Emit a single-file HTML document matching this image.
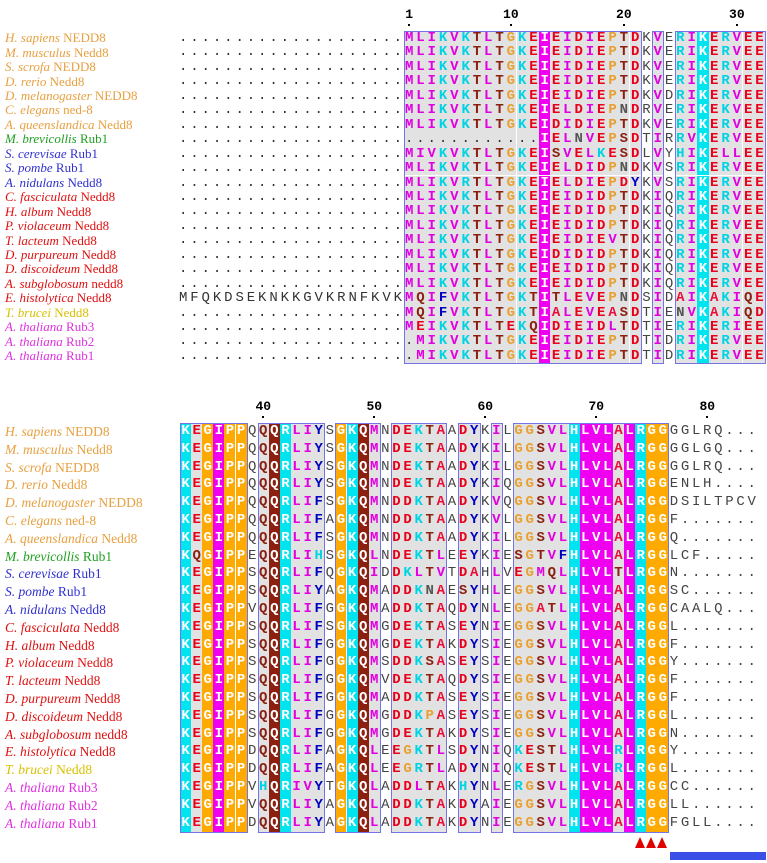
<!DOCTYPE html>
<html><head><meta charset="utf-8"><style>
body{margin:0;background:#fff;width:767px;height:863px;overflow:hidden;position:relative;font-family:"Liberation Serif",serif}
.n{position:absolute;left:5px;font-size:13px;white-space:nowrap}
.c{position:absolute;text-align:center;font-family:"Liberation Mono",monospace;font-weight:bold;font-size:14px}
.fr{position:absolute;border:1px solid #7474e4;box-sizing:border-box}
.r{position:absolute;font-family:"Liberation Mono",monospace;font-weight:bold;font-size:13px;text-align:center;width:30px}
</style></head><body>
<script>
const names=[["H. sapiens","NEDD8","#e8a040"],["M. musculus","Nedd8","#e8a040"],["S. scrofa","NEDD8","#e8a040"],["D. rerio","Nedd8","#e8a040"],["D. melanogaster","NEDD8","#e8a040"],["C. elegans","ned-8","#e8a040"],["A. queenslandica","Nedd8","#e8a040"],["M. brevicollis","Rub1","#20a020"],["S. cerevisae","Rub1","#3030d0"],["S. pombe","Rub1","#3030d0"],["A. nidulans","Nedd8","#3030d0"],["C. fasciculata","Nedd8","#e01010"],["H. album","Nedd8","#e01010"],["P. violaceum","Nedd8","#e01010"],["T. lacteum","Nedd8","#e01010"],["D. purpureum","Nedd8","#e01010"],["D. discoideum","Nedd8","#e01010"],["A. subglobosum","nedd8","#e01010"],["E. histolytica","Nedd8","#e01010"],["T. brucei","Nedd8","#d8c000"],["A. thaliana","Rub3","#e030e0"],["A. thaliana","Rub2","#e030e0"],["A. thaliana","Rub1","#e030e0"]];
const prefix=["....................","....................","....................","....................","....................","....................","....................","....................","....................","....................","....................","....................","....................","....................","....................","....................","....................","....................","MFQKDSEKNKKGVKRNFKVK","....................","....................","....................","...................."];
const seq1=["MLIKVKTLTGKEIEIDIEPTDKVERIKERVEE","MLIKVKTLTGKEIEIDIEPTDKVERIKERVEE","MLIKVKTLTGKEIEIDIEPTDKVERIKERVEE","MLIKVKTLTGKEIEIDIEPTDKVERIKERVEE","MLIKVKTLTGKEIEIDIEPTDKVDRIKERVEE","MLIKVKTLTGKEIELDIEPNDRVERIKEKVEE","MLIKVKTLTGKEIDIDIEPTDKVERIKERVEE","............IELNVEPSDTIRRVKERVEE","MIVKVKTLTGKEISVELKESDLVYHIKELLEE","MLIKVKTLTGKEIELDIDPNDKVSRIKERVEE","MLIKVRTLTGKEIELDIEPDYKVSRIKERVEE","MLIKVKTLTGKEIEIDIDPTDKIQRIKERVEE","MLIKVKTLTGKEIEIDIDPTDKIQRIKERVEE","MLIKVKTLTGKEIEIDIDPTDKIQRIKERVEE","MLIKVKTLTGKEIEIDIEVTDKIQRIKERVEE","MLIKVKTLTGKEIDIDIDPTDKIQRIKERVEE","MLIKVKTLTGKEIEIDIDPTDKIQRIKERVEE","MLIKVKTLTGKEIEIDIDPTDKIQRIKERVEE","MQIFVKTLTGKTITLEVEPNDSIDAIKAKIQE","MQIFVKTLTGKTIALEVEASDTIENVKAKIQD","MEIKVKTLTEKQIDIEIDLTDTIERIKERIEE",".MIKVKTLTGKEIEIDIEPTDTIDRIKERVEE",".MIKVKTLTGKEIEIDIEPTDTIDRIKERVEE"];
const seq2=["KEGIPPQQQRLIYSGKQMNDEKTAADYKILGGSVLHLVLALRGGGGLRQ...","KEGIPPQQQRLIYSGKQMNDEKTAADYKILGGSVLHLVLALRGGGGLGQ...","KEGIPPQQQRLIYSGKQMNDEKTAADYKILGGSVLHLVLALRGGGGLRQ...","KEGIPPQQQRLIYSGKQMNDEKTAADYKIQGGSVLHLVLALRGGENLH....","KEGIPPQQQRLIFSGKQMNDDKTAADYKVQGGSVLHLVLALRGGDSILTPCV","KEGIPPQQQRLIFAGKQMNDDKTAADYKVLGGSVLHLVLALRGGF.......","KEGIPPQQQRLIFSGKQMNDDKTAADYKILGGSVLHLVLALRGGQ.......","KQGIPPEQQRLIHSGKQLNDEKTLEEYKIESGTVFHLVLALRGGLCF.....","KEGIPPSQQRLIFQGKQIDDKLTVTDAHLVEGMQLHLVLTLRGGN.......","KEGIPPSQQRLIYAGKQMADDKNAESYHLEGGSVLHLVLALRGGSC......","KEGIPPVQQRLIFGGKQMADDKTAQDYNLEGGATLHLVLALRGGCAALQ...","KEGIPPSQQRLIFSGKQMGDEKTASEYNIEGGSVLHLVLALRGGL.......","KEGIPPSQQRLIFGGKQMGDEKTAKDYSIEGGSVLHLVLALRGGF.......","KEGIPPSQQRLIFGGKQMSDDKSASEYSIEGGSVLHLVLALRGGY.......","KEGIPPSQQRLIFGGKQMVDEKTAQDYSIEGGSVLHLVLALRGGF.......","KEGIPPSQQRLIFGGKQMADDKTASEYSIEGGSVLHLVLALRGGF.......","KEGIPPSQQRLIFGGKQMGDDKPASEYSIEGGSVLHLVLALRGGL.......","KEGIPPSQQRLIFGGKQMGDEKTAKDYSIEGGSVLHLVLALRGGN.......","KEGIPPDQQRLIFAGKQLEEGKTLSDYNIQKESTLHLVLRLRGGY.......","KEGIPPDQQRLIFAGKQLEEGRTLADYNIQKESTLHLVLRLRGGL.......","KEGIPPVHQRIVYTGKQLADDLTAKHYNLERGSVLHLVLALRGGCC......","KEGIPPVQQRLIYAGKQLADDKTAKDYAIEGGSVLHLVLALRGGLL......","KEGIPPDQQRLIYAGKQLADDKTAKDYNIEGGSVLHLVLALRGGFGLL...."];
const frames1=[[1,21],[23,23],[25,32]];
const full1={13:"#f000f0",27:"#00e4f0"};
const frames2=[[1,6],[8,13],[15,18],[20,24],[26,27],[29,29],[31,44]];
const full2={1:"#00e4f0",3:"#ffaa00",4:"#f000f0",5:"#ffaa00",6:"#ffaa00",9:"#8b2010",10:"#00e4f0",15:"#ffaa00",16:"#00e4f0",17:"#8b2010",36:"#00e4f0",37:"#f000f0",38:"#f000f0",39:"#f000f0",41:"#f000f0",42:"#00e4f0",43:"#ffaa00",44:"#ffaa00"};
const ticks1=[1,10,20,30], ticks2=[40,50,60,70,80];
const col={K:"#00d4e4",R:"#00d4e4",H:"#00d4e4",D:"#e8001a",E:"#e8001a",A:"#e8103a",I:"#e000e0",L:"#e000e0",V:"#e000e0",M:"#e000e0",G:"#e8a030",P:"#e8a030",T:"#8b2010",Q:"#8b2010",S:"#8b2010",Y:"#0000c0",F:"#0000c0",W:"#0000c0"};
const B=document.body;
function add(cls,css,txt){const d=document.createElement('div');d.className=cls;d.style.cssText=css;if(txt!=null)d.textContent=txt;B.appendChild(d);return d;}
function inFrame(fr,c){return fr.some(f=>c>=f[0]&&c<=f[1]);}
function block(seqs,pre,x0,cw,y0,rh,frames,full,startNum,ticks,fs){
  seqs.forEach((s,r)=>{
    const y=y0+r*rh;
    const n=add('n','top:'+(y+rh/2-8)+'px;font-size:'+fs+'px');
    
    
    n.innerHTML='<i>'+names[r][0]+'</i> '+names[r][1];n.style.color=names[r][2];
    if(pre){for(let i=0;i<pre[r].length;i++){const ch=pre[r][i];
      const e=add('c','left:'+(x0-(20-i)*cw)+'px;top:'+y+'px;width:'+cw+'px;height:'+rh+'px;line-height:'+rh+'px;font-weight:normal;color:#333',ch);
      
      }}
    for(let i=0;i<s.length;i++){const c=i+1,ch=s[i];let bg='',fg=col[ch]||'#555',fw='bold';
      const inF=inFrame(frames,c);
      if(ch==='.'){fg='#333';fw='normal';}
      if(full[c]&&ch!=='.'){bg=full[c];fg='#fff';}else if(inF)bg='#e2e2e2';
      if(!inF){fg='#444';fw='normal';}
      const e=add('c','left:'+(x0+i*cw)+'px;top:'+y+'px;width:'+cw+'px;height:'+rh+'px;line-height:'+rh+'px;font-weight:'+fw+';color:'+fg+(bg?';background:'+bg:''),ch);
      
      }
  });
  frames.forEach(f=>{const e=add('fr','left:'+(x0+(f[0]-1)*cw)+'px;top:'+y0+'px;width:'+((f[1]-f[0]+1)*cw+1)+'px;height:'+(seqs.length*rh+1)+'px');
    
    });
  ticks.forEach(t=>{const cx=x0+(t-startNum+0.5)*cw;
    const e=add('r','left:'+(cx-15)+'px;top:'+(y0-24)+'px',t+'');
    
    
    const d=add('','position:absolute;left:'+(cx-1)+'px;top:'+(y0-7)+'px;width:2px;height:2px;background:#000');
    
    });
}
block(seq1,prefix,403.5,11.3,31,14.45,frames1,full1,1,ticks1,13);
block(seq2,null,180,11.1,423,17.8,frames2,full2,33,ticks2,13.5);
[42,43,44].forEach(c=>{const cx=180+(c-0.5)*11.1;
  const t=add('','position:absolute;left:'+(cx-5.5)+'px;top:837px;width:0;height:0;border-left:5.5px solid transparent;border-right:5.5px solid transparent;border-bottom:11px solid #e00000');
  
  });
const bar=add('','position:absolute;left:670px;top:852px;width:96px;height:8px;background:#3a4ee8');


</script>
</body></html>
